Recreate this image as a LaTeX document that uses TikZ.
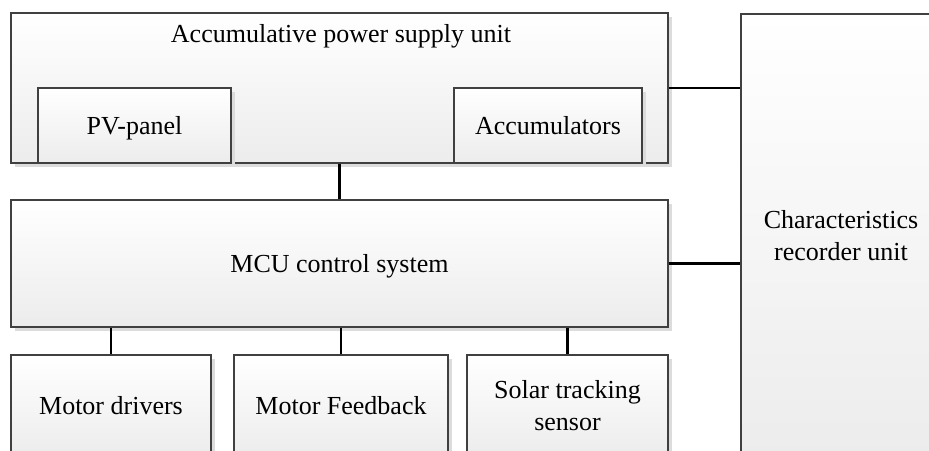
\documentclass[tikz,border=0pt]{standalone}
\usepackage{fontspec}
\setmainfont{Liberation Serif}
\usetikzlibrary{shadows}
\definecolor{boxline}{HTML}{404040}
\definecolor{boxbottom}{HTML}{ECECEC}
\definecolor{shadowgray}{HTML}{DCDCDC}
\tikzset{
  blk/.style={rectangle, draw=boxline, line width=1.5pt, inner sep=0pt,
    top color=white, bottom color=boxbottom, align=center,
    font=\fontsize{26}{32}\selectfont,
    general shadow={fill=shadowgray, shadow xshift=4pt, shadow yshift=-4pt}},
  oneline/.style={text height=20pt, text depth=3pt},
  lbl/.style={inner sep=0pt, font=\fontsize{26}{32}\selectfont},
  link/.style={draw=black, line width=2.3pt}
}
\begin{document}
\begin{tikzpicture}[x=1pt, y=-1pt]
\useasboundingbox (0,0) rectangle (929,450);
\fill[white] (0,0) rectangle (929,450);
\clip (0,0) rectangle (929,450);
% top unit
\node[blk, minimum width=657pt, minimum height=150pt] (top) at (339.5,88) {};
\node[lbl, text height=20pt, text depth=3pt] (toptitle) at (341,34) {Accumulative power supply unit};
\node[blk, oneline, minimum width=193pt, minimum height=75pt] (pv) at (134.5,125.5) {PV-panel};
\node[blk, oneline, minimum width=188pt, minimum height=75pt] (acc) at (548,125.5) {Accumulators};
% MCU
\node[blk, oneline, minimum width=657pt, minimum height=127pt] (mcu) at (339.5,263.5) {MCU control system};
% recorder
\node[blk, minimum width=200pt, minimum height=444pt] (rec) at (841,236) {Characteristics\\recorder unit};
% bottom
\node[blk, oneline, minimum width=200pt, minimum height=102pt] (md) at (111,406) {Motor drivers};
\node[blk, oneline, minimum width=214pt, minimum height=102pt] (mf) at (341,406) {Motor Feedback};
\node[blk, minimum width=201pt, minimum height=102pt] (st) at (567.5,406) {Solar tracking\\sensor};
% connectors
\draw[link] (top.south) -- (mcu.north);
\draw[link] (top.east) -- (top.east -| rec.west);
\draw[link] (mcu.east) -- (mcu.east -| rec.west);
\draw[link] (md.north) -- (md.north |- mcu.south);
\draw[link] (mf.north) -- (mf.north |- mcu.south);
\draw[link] (st.north) -- (st.north |- mcu.south);
\end{tikzpicture}
\end{document}
